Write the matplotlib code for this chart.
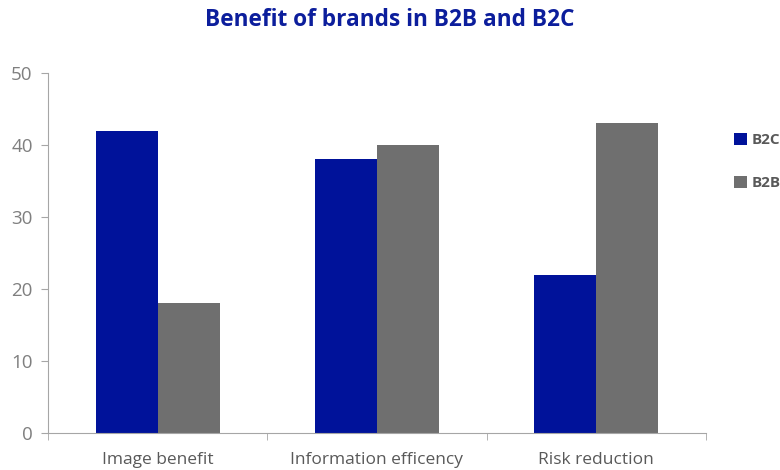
import matplotlib.pyplot as plt
import numpy as np

categorias = ['Image benefit', 'Information efficency', 'Risk reduction']
b2c = [42, 38, 22]
b2b = [18, 40, 43]

plt.rcParams['font.family'] = ['Open Sans', 'DejaVu Sans']

fig = plt.figure(figsize=(7.8, 4.7), dpi=100)
ax = fig.add_axes([48 / 780, 37 / 470, 658 / 780, 360 / 470])

x = np.arange(len(categorias))
ancho = 0.283
ax.bar(x - ancho / 2, b2c, ancho, color='#00129a', label='B2C')
ax.bar(x + ancho / 2, b2b, ancho, color='#6f6f6f', label='B2B')

ax.set_xlim(-0.5, len(categorias) - 0.5)
ax.set_ylim(0, 50)
ax.set_yticks(range(0, 51, 10))
ax.set_xticks(x)
ax.set_xticklabels(categorias)
ax.set_xticks([-0.5, 0.5, 1.5, 2.5], minor=True)
ax.tick_params(axis='x', which='major', length=0, pad=14, labelsize=12.5, labelcolor='#595959')
ax.tick_params(axis='x', which='minor', length=5, color='#a6a6a6')
ax.tick_params(axis='y', length=5, color='#a6a6a6', labelsize=13.5, labelcolor='#7f7f7f', pad=6)

for lado in ['top', 'right']:
    ax.spines[lado].set_visible(False)
ax.spines['left'].set_color('#a6a6a6')
ax.spines['bottom'].set_color('#a6a6a6')

fig.text(0.5, 1 - 20 / 470, 'Benefit of brands in B2B and B2C', ha='center', va='center',
         fontsize=16.3, fontweight='bold', color='#0c1e9c')

leg = ax.legend(loc='upper left', bbox_to_anchor=(729 / 780, 1 - 128 / 470),
                bbox_transform=fig.transFigure, frameon=False, handlelength=0.85,
                handleheight=0.85, handletextpad=0.3, labelspacing=1.9, fontsize=11,
                borderaxespad=0, borderpad=0.3)
for t in leg.get_texts():
    t.set_color('#595959')
    t.set_fontweight('bold')

fig.savefig('out.png', dpi=100)
